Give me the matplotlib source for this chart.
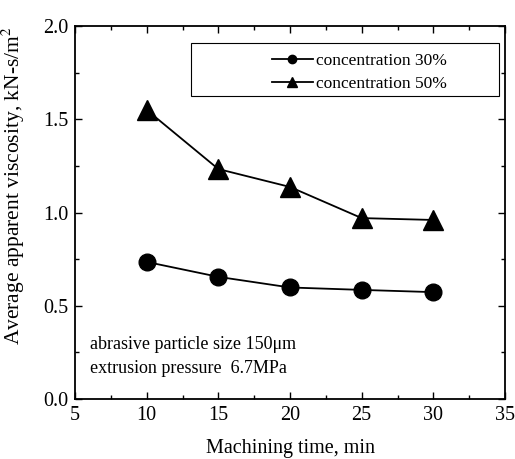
import matplotlib
matplotlib.use("Agg")
import matplotlib.pyplot as plt
from matplotlib.ticker import MultipleLocator
from matplotlib.patches import Rectangle

plt.rcParams['font.family'] = ['Liberation Serif', 'DejaVu Serif']
plt.rcParams['mathtext.fontset'] = 'stix'

# data
time_min = [10, 15, 20, 25, 30]
visc_30 = [0.735, 0.655, 0.598, 0.585, 0.573]
visc_50 = [1.55, 1.233, 1.137, 0.97, 0.96]

fig = plt.figure(figsize=(5.15, 4.59), dpi=100)
ax = fig.add_axes([75 / 515, 1 - 399 / 459, 430 / 515, 373 / 459])

ax.plot(time_min, visc_30, color='black', lw=1.3, marker='o', ms=12,
        label='concentration 30%')
ax.plot(time_min, visc_50, color='black', lw=1.3, marker='^', ms=14,
        label='concentration 50%')

ax.set_xlim(5, 35)
ax.set_ylim(0, 2.0)
ax.xaxis.set_major_locator(MultipleLocator(5))
ax.xaxis.set_minor_locator(MultipleLocator(2.5))
ax.yaxis.set_major_locator(MultipleLocator(0.5))
ax.yaxis.set_minor_locator(MultipleLocator(0.25))
ax.tick_params(which='both', direction='in', top=True, right=True,
               labelsize=14.5, width=1)
ax.tick_params(axis='x', pad=5)
ax.tick_params(axis='y', pad=5)
ax.tick_params(which='major', length=5)
ax.tick_params(which='minor', length=3)
ax.yaxis.set_major_formatter(plt.FuncFormatter(lambda v, p: f'{v:.1f}'))
for s in ax.spines.values():
    s.set_linewidth(1.3)

ax.set_xlabel('Machining time, min', fontsize=14.5, labelpad=10)
ax.set_ylabel('Average apparent viscosity, kN-s/m$^2$', fontsize=15.5)
ax.yaxis.set_label_coords(-0.112, 0.571)

# legend frame drawn separately, wider than the entries
ax.add_patch(Rectangle((0.27, 0.812), 0.716, 0.142, transform=ax.transAxes,
                       fill=False, edgecolor='black', lw=0.8, zorder=4))
leg = ax.legend(loc='upper left', bbox_to_anchor=(0.445, 0.942),
                fontsize=12.5, frameon=False,
                handlelength=2.4, borderpad=0.3, labelspacing=0.38,
                handletextpad=0.15, markerscale=0.5, borderaxespad=0)

ax.text(0.035, 0.058, 'abrasive particle size 150μm\nextrusion pressure  6.7MPa',
        transform=ax.transAxes, fontsize=13, va='bottom', ha='left',
        linespacing=1.55)

fig.savefig('out.png', dpi=100)
